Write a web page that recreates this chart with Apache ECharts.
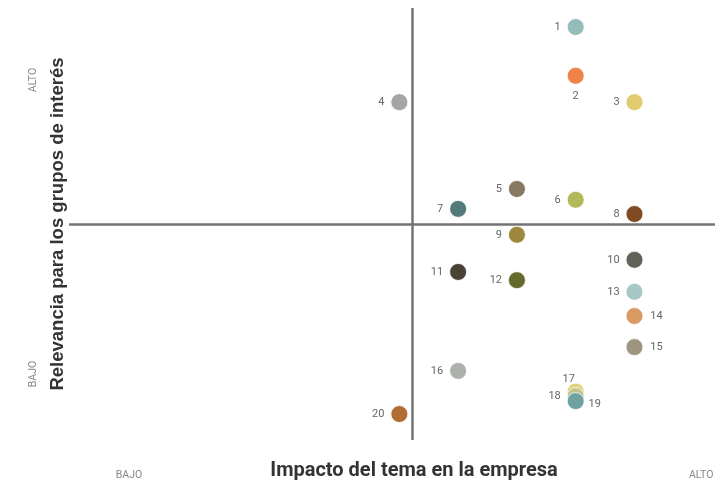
<!DOCTYPE html>
<html>
<head>
<meta charset="utf-8">
<script src="https://cdn.jsdelivr.net/npm/echarts@6/dist/echarts.min.js"></script>
<style>
  html, body { margin: 0; padding: 0; background: #ffffff; }
  #chart { width: 715px; height: 483px; }
</style>
</head>
<body>
<div id="chart"></div>
<script>
// Materiality matrix: impact on the company (x) vs. relevance for stakeholders (y)
const topicIds = ['1','2','3','4','5','6','7','8','9','10','11','12','13','14','15','16','17','18','19','20'];
const impactValues = [4, 4, 5, 1, 3, 4, 2, 5, 3, 5, 2, 3, 5, 5, 5, 2, 4, 4, 4, 1];
const relevanceValues = [9.56, 8.43, 7.82, 7.82, 5.81, 5.56, 5.35, 5.23, 4.75, 4.17, 3.89, 3.70, 3.43, 2.87, 2.15, 1.60, 1.12, 1.02, 0.90, 0.60];
const lowHighLabels = ['BAJO', 'ALTO'];
const xTitle = 'Impacto del tema en la empresa';
const yTitle = 'Relevancia para los grupos de interés';

// Where the quadrant lines cross, and the visible range of each scale
const xCross = 1.216, yCross = 5;
const xRange = [-4.62, 6.37], yRange = [0, 10];

const colors = ['#94bcbb', '#f08347', '#e2cb6e', '#a3a6a2', '#877861', '#b3b85b', '#527a78',
  '#7f4b22', '#9c873c', '#5f635a', '#4a4237', '#646a2c', '#a8c8c7', '#dc9a63', '#9e9580',
  '#adb1ac', '#ddd277', '#c3c68a', '#6fa2a0', '#b06d34'];

// Label placement around each dot
const labelPlacement = {
  '2': { position: 'bottom', distance: 6 },
  '14': { position: 'right', distance: 7 },
  '15': { position: 'right', distance: 7 },
  '19': { position: 'right', distance: 4, offset: [0, 3] },
  '17': { position: 'top', distance: -2, offset: [-7, 0] }
};

const points = topicIds.map((id, i) => {
  const p = labelPlacement[id] || { position: 'left', distance: 6 };
  return {
    name: id,
    value: [impactValues[i], relevanceValues[i]],
    itemStyle: { color: colors[i] },
    label: Object.assign({}, p)
  };
});

const chart = echarts.init(document.getElementById('chart'), null, { renderer: 'canvas' });
const lineColor = '#737373';

chart.setOption({
  animation: false,
  grid: { left: 69, right: 0, top: 8, bottom: 43 },
  xAxis: {
    type: 'value', min: xRange[0], max: xRange[1],
    axisLine: { show: false }, axisTick: { show: false },
    axisLabel: { show: false }, splitLine: { show: false }
  },
  yAxis: {
    type: 'value', min: yRange[0], max: yRange[1],
    axisLine: { show: false }, axisTick: { show: false },
    axisLabel: { show: false }, splitLine: { show: false }
  },
  series: [{
    type: 'scatter',
    symbol: 'circle',
    symbolSize: 17,
    itemStyle: { borderColor: '#ffffff', borderWidth: 0.8, opacity: 1 },
    label: {
      show: true,
      formatter: '{b}',
      color: '#666666',
      fontFamily: 'Roboto, "Liberation Sans", sans-serif',
      fontSize: 11
    },
    emphasis: { disabled: true },
    markLine: {
      silent: true,
      symbol: ['none', 'none'],
      label: { show: false },
      lineStyle: { color: lineColor, width: 2.5, type: 'solid' },
      data: [{ xAxis: xCross }, { yAxis: yCross }],
      z: 1
    },
    data: points,
    z: 3
  }],
  graphic: [
    {
      type: 'text', x: 33, y: 80, rotation: Math.PI / 2,
      style: { text: lowHighLabels[1], fill: '#888888', font: '10.5px Roboto, sans-serif', align: 'center', verticalAlign: 'middle' }
    },
    {
      type: 'text', x: 33, y: 374, rotation: Math.PI / 2,
      style: { text: lowHighLabels[0], fill: '#888888', font: '10.5px Roboto, sans-serif', align: 'center', verticalAlign: 'middle' }
    },
    {
      type: 'text', x: 129, y: 475,
      style: { text: lowHighLabels[0], fill: '#888888', font: '10.5px Roboto, sans-serif', align: 'center', verticalAlign: 'middle' }
    },
    {
      type: 'text', x: 689, y: 475,
      style: { text: lowHighLabels[1], fill: '#888888', font: '10.5px Roboto, sans-serif', align: 'left', verticalAlign: 'middle' }
    },
    {
      type: 'text', x: 58, y: 224, rotation: Math.PI / 2,
      style: { text: yTitle, fill: '#333333', font: 'bold 18.5px "Liberation Sans", Arial, sans-serif', align: 'center', verticalAlign: 'middle' }
    },
    {
      type: 'text', x: 414, y: 471,
      style: { text: xTitle, fill: '#333333', font: 'bold 20px "Roboto", sans-serif', align: 'center', verticalAlign: 'middle' }
    }
  ]
});
</script>
</body>
</html>
